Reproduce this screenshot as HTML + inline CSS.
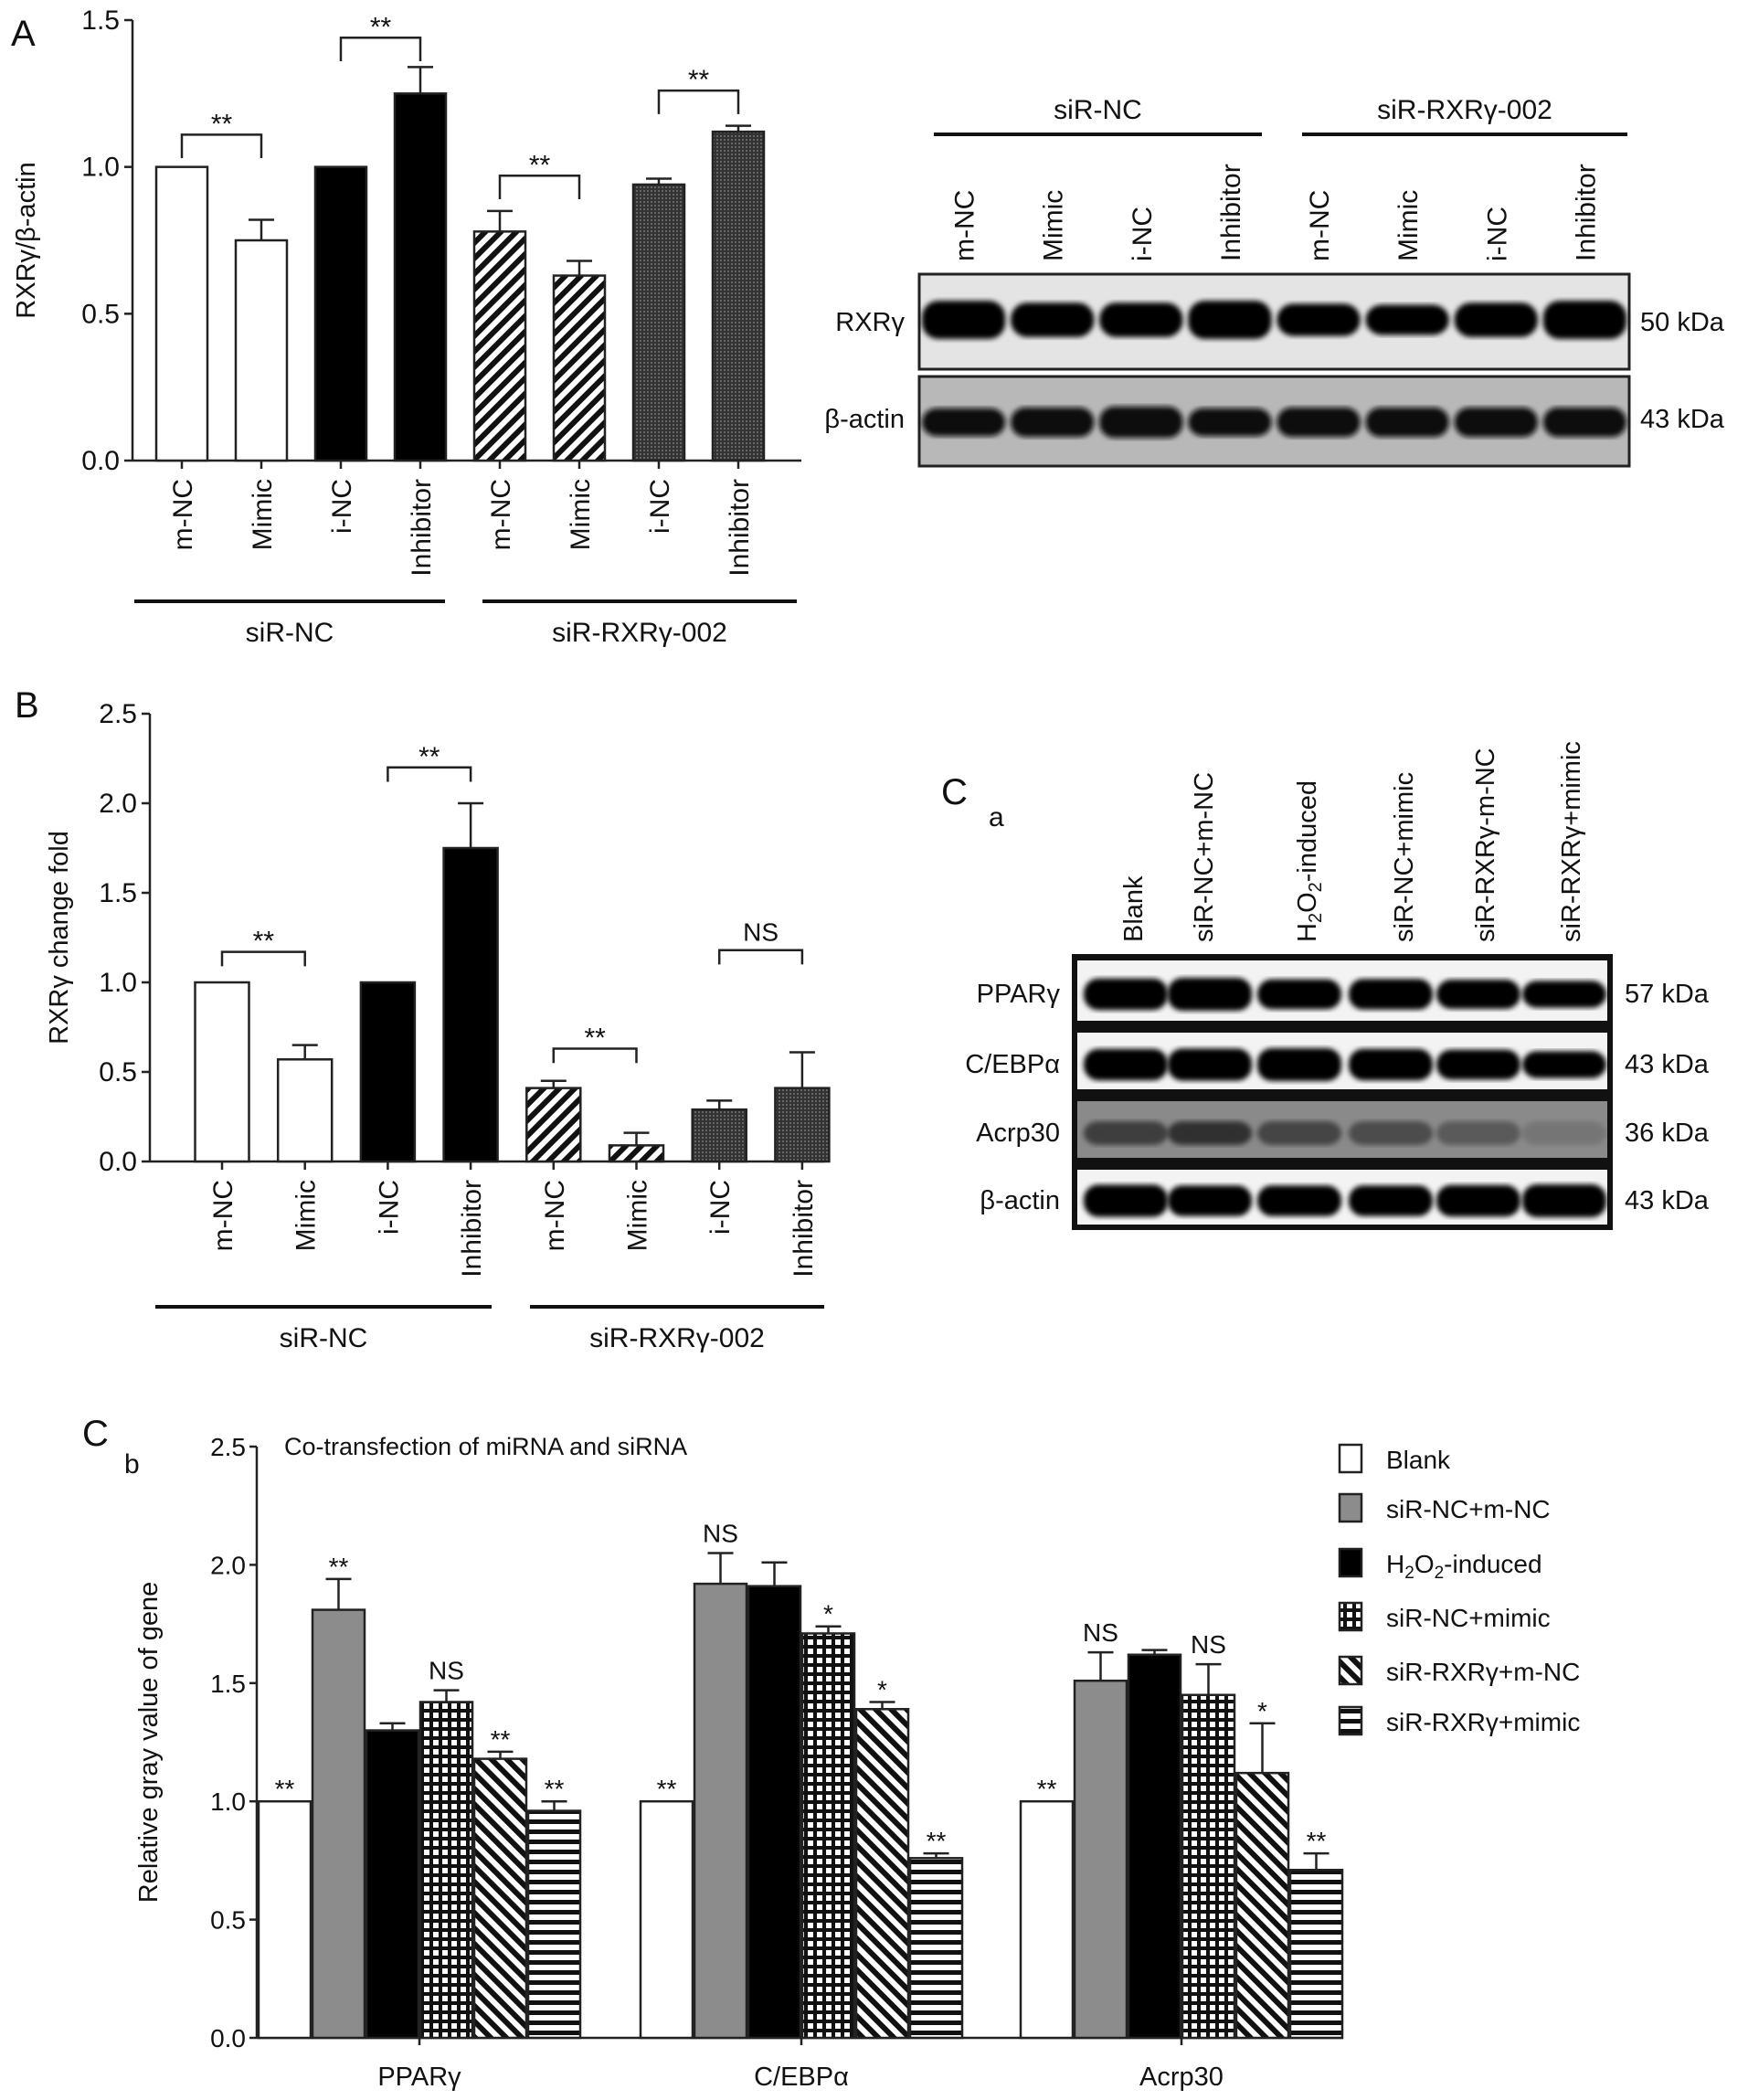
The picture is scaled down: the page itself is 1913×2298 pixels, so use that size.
<!DOCTYPE html>
<html><head><meta charset="utf-8"><style>
html,body{margin:0;padding:0;background:#fff}
svg{display:block}
text{font-family:"Liberation Sans",Arial,sans-serif;fill:#111}
</style></head><body>
<svg id="fig" width="1913" height="2298" viewBox="0 0 1913 2298" xmlns="http://www.w3.org/2000/svg">
<defs>
<pattern id="pHatch" patternUnits="userSpaceOnUse" width="12" height="12" patternTransform="rotate(45)"><rect width="12" height="12" fill="#fff"/><rect width="6" height="12" fill="#111"/></pattern>
<pattern id="pDots" patternUnits="userSpaceOnUse" width="4" height="4"><rect width="4" height="4" fill="#333"/><rect width="2" height="2" fill="#666"/></pattern>
<pattern id="pGrid" patternUnits="userSpaceOnUse" width="10" height="10"><rect width="10" height="10" fill="#fff"/><rect width="10" height="4" fill="#111"/><rect width="4" height="10" fill="#111"/></pattern>
<pattern id="pBack" patternUnits="userSpaceOnUse" width="12" height="12" patternTransform="rotate(-45)"><rect width="12" height="12" fill="#fff"/><rect width="6" height="12" fill="#111"/></pattern>
<pattern id="pHoriz" patternUnits="userSpaceOnUse" width="10" height="11"><rect width="10" height="11" fill="#fff"/><rect width="10" height="5" fill="#111"/></pattern>
<filter id="blur2"><feGaussianBlur stdDeviation="3"/></filter>
</defs>
</svg>
<script>
// ---------- data ----------
const aCats = ["m-NC","Mimic","i-NC","Inhibitor","m-NC","Mimic","i-NC","Inhibitor"];
const aVals = [1.0,0.75,1.0,1.25,0.78,0.63,0.94,1.12];
const aErrs = [0,0.07,0,0.09,0.07,0.05,0.02,0.02];
const aTicks = [0.0,0.5,1.0,1.5];
const aSig = [[0,1,1.11,"**"],[2,3,1.44,"**"],[4,5,0.97,"**"],[6,7,1.26,"**"]];

const bCats = ["m-NC","Mimic","i-NC","Inhibitor","m-NC","Mimic","i-NC","Inhibitor"];
const bVals = [1.0,0.57,1.0,1.75,0.41,0.09,0.29,0.41];
const bErrs = [0,0.08,0,0.25,0.04,0.07,0.05,0.20];
const bTicks = [0.0,0.5,1.0,1.5,2.0,2.5];
const bSig = [[0,1,1.17,"**"],[2,3,2.2,"**"],[4,5,0.63,"**"],[6,7,1.18,"NS"]];

const cGenes = ["PPARγ","C/EBPα","Acrp30"];
const cSeries = ["Blank","siR-NC+m-NC","H2O2-induced","siR-NC+mimic","siR-RXRγ+m-NC","siR-RXRγ+mimic"];
const cVals = [[1.0,1.81,1.30,1.42,1.18,0.96],[1.0,1.92,1.91,1.71,1.39,0.76],[1.0,1.51,1.62,1.45,1.12,0.71]];
const cErrs = [[0,0.13,0.03,0.05,0.03,0.04],[0,0.13,0.10,0.03,0.03,0.02],[0,0.12,0.02,0.13,0.21,0.07]];
const cMarks = [["**","**","","NS","**","**"],["**","NS","","*","*","**"],["**","NS","","NS","*","**"]];
const cTicks = [0.0,0.5,1.0,1.5,2.0,2.5];

const blotALanes = [0.95,0.85,0.85,0.95,0.8,0.75,0.85,0.95];
const blotAActin = [0.8,0.85,0.9,0.8,0.85,0.85,0.85,0.85];
const blotCLabels = ["Blank","siR-NC+m-NC","H2O2-induced","siR-NC+mimic","siR-RXRγ-m-NC","siR-RXRγ+mimic"];
const blotCRows = ["PPARγ","C/EBPα","Acrp30","β-actin"];
const blotCkDa = ["57 kDa","43 kDa","36 kDa","43 kDa"];
const blotCInt = [[0.9,1.0,0.8,0.85,0.75,0.6],[0.9,0.95,1.0,0.9,0.8,0.6],[0.55,0.65,0.5,0.45,0.35,0.15],[0.95,0.85,0.85,0.85,0.9,1.0]];

// ---------- helpers ----------
const NS="http://www.w3.org/2000/svg";
const svg=document.getElementById('fig');
function mk(tag,attrs,parent){const e=document.createElementNS(NS,tag);for(const k in attrs)e.setAttribute(k,attrs[k]);(parent||svg).appendChild(e);return e;}
function txt(x,y,s,size,parent,extra){const t=mk('text',Object.assign({x:x,y:y,'font-size':size},extra||{}),parent);t.textContent=s;return t;}

let t;
t=txt(12,50,"A",40);
t=txt(16,785,"B",40);
t=txt(1030,880,"C",40);
t=txt(1082,904,"a",30);
t=txt(90,1582,"C",40);
t=txt(136,1612,"b",30);

function barChart(o){
  const g=mk('g',{});
  
  
  const y=v=>o.y0-(v/o.max)*(o.y0-o.yTop);
  const x=i=>o.x0c+i*o.step;
  mk('line',{x1:o.ax,y1:o.yTop,x2:o.ax,y2:o.y0,stroke:'#222','stroke-width':2.5},g);
  mk('line',{x1:o.ax,y1:o.y0,x2:o.axEnd,y2:o.y0,stroke:'#222','stroke-width':2.5},g);
  o.ticks.forEach(v=>{
    mk('line',{x1:o.ax-9,y1:y(v),x2:o.ax,y2:y(v),stroke:'#222','stroke-width':2.5},g);
    const tl=txt(o.ax-14,y(v)+10,v.toFixed(1),30,g,{'text-anchor':'end'});
    
    
  });
  const yl=txt(0,0,o.ylab,29,g,{'text-anchor':'middle',transform:`translate(${o.ylx},${(o.yTop+o.y0)/2}) rotate(-90)`});
  
  
  o.vals.forEach((v,i)=>{
    const cx=x(i);
    if(o.errs[i]>0){
      mk('line',{x1:cx,y1:y(v),x2:cx,y2:y(v+o.errs[i]),stroke:'#222','stroke-width':2.5},g);
      mk('line',{x1:cx-14,y1:y(v+o.errs[i]),x2:cx+14,y2:y(v+o.errs[i]),stroke:'#222','stroke-width':2.5},g);
    }
    const r=mk('rect',{x:cx-o.bw/2,y:y(v),width:o.bw,height:o.y0-y(v),fill:o.fills[i],stroke:'#222','stroke-width':2.5},g);
    
    
    mk('line',{x1:cx,y1:o.y0,x2:cx,y2:o.y0+9,stroke:'#222','stroke-width':2.5},g);
    const cl=txt(0,0,o.cats[i],30,g,{'text-anchor':'end',transform:`translate(${cx+11},${o.y0+20}) rotate(-90)`});
    
    
  });
  o.sig.forEach(s=>{
    const a=x(s[0]),b=x(s[1]),yy=y(s[2]),leg=y(s[2]-0.08)-yy;
    const p=mk('path',{d:`M${a},${yy+leg} V${yy} H${b} V${yy+leg}`,fill:'none',stroke:'#222','stroke-width':2.5},g);
    
    
    const st=txt((a+b)/2,yy-(s[3]==="NS"?10:2),s[3],s[3]==="NS"?28:30,g,{'text-anchor':'middle'});
    
    
  });
  o.groups.forEach(gr=>{
    mk('line',{x1:gr[0],y1:o.gy,x2:gr[1],y2:o.gy,stroke:'#111','stroke-width':4},g);
    const gl=txt((gr[0]+gr[1])/2,o.gy+44,gr[2],30,g,{'text-anchor':'middle'});
    
    
  });
}
const fillsAB=['#fff','#fff','#000','#000','url(#pHatch)','url(#pHatch)','url(#pDots)','url(#pDots)'];
barChart({name:'chart-a',cats:aCats,vals:aVals,errs:aErrs,ticks:aTicks,sig:aSig,max:1.5,ax:145,axEnd:877,yTop:22,y0:504,x0c:199,step:87,bw:56,fills:fillsAB,ylab:"RXRγ/β-actin",ylx:38,gy:658,groups:[[147,487,"siR-NC"],[528,872,"siR-RXRγ-002"]]});
barChart({name:'chart-b',cats:bCats,vals:bVals,errs:bErrs,ticks:bTicks,sig:bSig,max:2.5,ax:164,axEnd:902,yTop:781,y0:1271,x0c:243,step:90.7,bw:59,fills:fillsAB,ylab:"RXRγ change fold",ylx:74,gy:1430,groups:[[170,538,"siR-NC"],[580,902,"siR-RXRγ-002"]]});

// ---------- Blot A ----------
(function(){
  const g=mk('g',{});
  
  
  [[1022,1381,"siR-NC"],[1425,1781,"siR-RXRγ-002"]].forEach(gr=>{
    mk('line',{x1:gr[0],y1:147,x2:gr[1],y2:147,stroke:'#111','stroke-width':4},g);
    const l=txt((gr[0]+gr[1])/2,130,gr[2],30,g,{'text-anchor':'middle'});
    
    
  });
  const x0=1006,x1=1783,lw=(x1-x0)/8;
  aCats.forEach((c,i)=>{
    const cx=x0+lw*(i+0.5);
    const l=txt(0,0,c,30,g,{'text-anchor':'start',transform:`translate(${cx+11},${286}) rotate(-90)`});
    
    
  });
  mk('rect',{x:x0,y:300,width:x1-x0,height:104,fill:'#e4e4e4',stroke:'#222','stroke-width':3},g);
  mk('rect',{x:x0,y:412,width:x1-x0,height:98,fill:'#b8b8b8',stroke:'#222','stroke-width':3},g);
  blotAActin.forEach((v,i)=>{
    const cx=x0+lw*(i+0.5);
    mk('rect',{x:cx-lw*0.47,y:350-22*blotALanes[i],width:lw*0.94,height:44*blotALanes[i],rx:18,fill:'#050505',filter:'url(#blur2)'},g);
    mk('rect',{x:cx-lw*0.47,y:462-19*v,width:lw*0.94,height:38*v,rx:16,fill:'#080808',filter:'url(#blur2)'},g);
  });
  let l=txt(990,362,"RXRγ",29,g,{'text-anchor':'end'});
  l=txt(990,468,"β-actin",29,g,{'text-anchor':'end'});
  l=txt(1795,362,"50 kDa",29,g);
  l=txt(1795,468,"43 kDa",29,g);
})();

// ---------- Blot C-a ----------
(function(){
  const g=mk('g',{});
  
  
  const labX=[1239,1316,1429,1535,1624,1718];
  const lanes=[1232,1324,1422,1522,1618,1712];
  blotCLabels.forEach((s,i)=>{
    const l=mk('text',{'font-size':29,'text-anchor':'start',transform:`translate(${labX[i]+11},1031) rotate(-90)`},g);
    if(s.startsWith("H2O2")){l.innerHTML='H<tspan font-size="20" dy="6">2</tspan><tspan dy="-6">O</tspan><tspan font-size="20" dy="6">2</tspan><tspan dy="-6">-induced</tspan>';}
    else l.textContent=s;
    
    
  });
  mk('rect',{x:1173,y:1044,width:592,height:302,fill:'#111'},g);
  const rows=[[1051,1117,'#f3f3f3'],[1130,1192,'#f3f3f3'],[1205,1267,'#8a8a8a'],[1280,1340,'#f3f3f3']];
  rows.forEach((r,ri)=>{
    mk('rect',{x:1179,y:r[0],width:580,height:r[1]-r[0],fill:r[2]},g);
    const cy=(r[0]+r[1])/2+4;
    lanes.forEach((cx,i)=>{
      const v=blotCInt[ri][i];
      const op=ri===2?v:1;
      const h=ri===2?26:36*(0.55+0.45*v);
      mk('rect',{x:cx-46,y:cy-h/2,width:92,height:h,rx:16,fill:'#050505','fill-opacity':op,filter:'url(#blur2)'},g);
    });
    let l=txt(1160,cy+9,blotCRows[ri],29,g,{'text-anchor':'end'});
    l=txt(1778,cy+9,blotCkDa[ri],29,g);
  });
})();

// ---------- Chart C-b ----------
(function(){
  const g=mk('g',{});
  
  
  const ax=281,yTop=1583,y0=2230,max=2.5,axEnd=1470;
  const y=v=>y0-(v/max)*(y0-yTop);
  const groupStart=[283,701,1117],bw=57,step=59;
  const fills=['#fff','#8c8c8c','#000','url(#pGrid)','url(#pBack)','url(#pHoriz)'];
  mk('line',{x1:ax,y1:yTop,x2:ax,y2:y0,stroke:'#222','stroke-width':2.5},g);
  mk('line',{x1:ax,y1:y0,x2:axEnd,y2:y0,stroke:'#222','stroke-width':2.5},g);
  cTicks.forEach(v=>{
    mk('line',{x1:ax-8,y1:y(v),x2:ax,y2:y(v),stroke:'#222','stroke-width':2.5},g);
    const l=txt(ax-12,y(v)+10,v.toFixed(1),28,g,{'text-anchor':'end'});
    
    
  });
  let l=txt(0,0,"Relative gray value of gene",29,g,{'text-anchor':'middle',transform:`translate(172,${(yTop+y0)/2}) rotate(-90)`});
  
  l=txt(311,1592,"Co-transfection of miRNA and siRNA",27,g);
  
  cGenes.forEach((gn,gi)=>{
    const gs=groupStart[gi];
    const mid=gs+3*step-1;
    mk('line',{x1:mid,y1:y0,x2:mid,y2:y0+8,stroke:'#222','stroke-width':2.5},g);
    const gl=txt(mid,2282,gn,29,g,{'text-anchor':'middle'});
    
    
    cVals[gi].forEach((v,si)=>{
      const bx=gs+si*step, cx=bx+bw/2, e=cErrs[gi][si];
      if(e>0){
        mk('line',{x1:cx,y1:y(v),x2:cx,y2:y(v+e),stroke:'#222','stroke-width':2.5},g);
        mk('line',{x1:cx-14,y1:y(v+e),x2:cx+14,y2:y(v+e),stroke:'#222','stroke-width':2.5},g);
      }
      const r=mk('rect',{x:bx,y:y(v),width:bw,height:y0-y(v),fill:fills[si],stroke:'#222','stroke-width':2.5},g);
      
      
      const m=cMarks[gi][si];
      if(m){
        const mt=txt(cx,y(v+e)-(m==="NS"?12:4),m,28,g,{'text-anchor':'middle'});
        
        
      }
    });
  });
  const ly=[1595,1649,1709,1768,1827,1882];
  cSeries.forEach((s,i)=>{
    const lg=mk('g',{},g);
    
    
    mk('rect',{x:1466,y:ly[i]-14,width:24,height:30,fill:fills[i],stroke:'#222','stroke-width':2.5},lg);
    const lt=mk('text',{x:1517,y:ly[i]+12,'font-size':28},lg);
    if(s==="H2O2-induced"){lt.innerHTML='H<tspan font-size="19" dy="6">2</tspan><tspan dy="-6">O</tspan><tspan font-size="19" dy="6">2</tspan><tspan dy="-6">-induced</tspan>';}
    else lt.textContent=s;
  });
})();
</script>
</body></html>
